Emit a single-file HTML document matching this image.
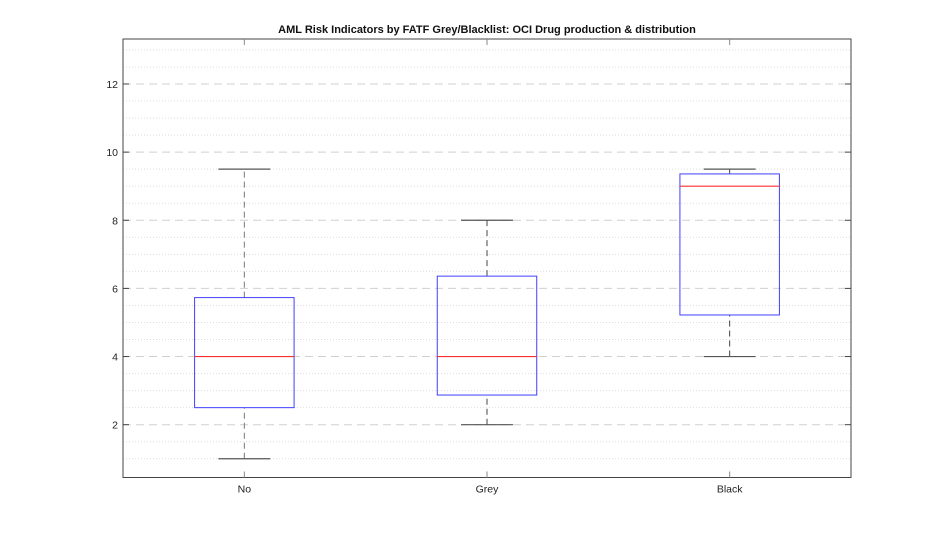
<!DOCTYPE html>
<html><head><meta charset="utf-8"><style>
body{margin:0;background:#fff;font-family:"Liberation Sans",sans-serif}
</style></head><body>
<svg id="chart" width="943" height="539" xmlns="http://www.w3.org/2000/svg" font-family="Liberation Sans, sans-serif"></svg>
<script>
const categories=["No","Grey","Black"];
const whiskerLow=[1,2,4];
const q1=[2.5,2.87,5.22];
const medians=[4,4,9];
const q3=[5.73,6.36,9.36];
const whiskerHigh=[9.5,8,9.5];
const yTicks=[2,4,6,8,10,12];
const title="AML Risk Indicators by FATF Grey/Blacklist: OCI Drug production & distribution";

const L=123,R=851,T=39,B=477.5,yMin=0.45,yMax=13.32;
const sx=v=>L+(v-0.5)/3*(R-L);
const sy=v=>B-(v-yMin)/(yMax-yMin)*(B-T);
const svg=document.getElementById('chart');
const NS="http://www.w3.org/2000/svg";
function mk(tag,attrs,parent){const e=document.createElementNS(NS,tag);for(const k in attrs)e.setAttribute(k,attrs[k]);(parent||svg).appendChild(e);return e;}

const grid=mk('g',{});


for(let v=1;v<=13;v+=0.5){
  const major=yTicks.includes(v);
  const ln=mk('line',{x1:L,x2:R,y1:sy(v),y2:sy(v),stroke:major?'#d0d0d0':'#dedede','stroke-width':1,'stroke-dasharray':major?'8,5':'1,2'},grid);
  
  
}
const box=mk('rect',{x:L,y:T,width:R-L,height:B-T,fill:'none',stroke:'#444','stroke-width':1});


yTicks.forEach(v=>{
  const y=sy(v);
  mk('line',{x1:L,x2:L+6,y1:y,y2:y,stroke:'#444'});
  mk('line',{x1:R-6,x2:R,y1:y,y2:y,stroke:'#444'});
  const t=mk('text',{x:L-5,y:y+4,'text-anchor':'end','font-size':10.5,fill:'#222'});
  t.textContent=v;
  
  
});
categories.forEach((c,i)=>{
  const cx=sx(i+1);
  mk('line',{x1:cx,x2:cx,y1:B,y2:B-6,stroke:'#888'});
  mk('line',{x1:cx,x2:cx,y1:T,y2:T+6,stroke:'#888'});
  const t=mk('text',{x:cx,y:B+15,'text-anchor':'middle','font-size':10.5,fill:'#222'});
  t.textContent=c;
  
  
  const g=mk('g',{});
  
  
  const hw=(sx(1.205)-sx(1)), cw=(sx(1.107)-sx(1));
  const wc=i===0?'#777':'#444';
  mk('line',{x1:cx,x2:cx,y1:sy(whiskerLow[i]),y2:sy(q1[i]),stroke:wc,'stroke-dasharray':'6,4'},g);
  mk('line',{x1:cx,x2:cx,y1:sy(q3[i]),y2:sy(whiskerHigh[i]),stroke:wc,'stroke-dasharray':'6,4'},g);
  mk('line',{x1:cx-cw,x2:cx+cw,y1:sy(whiskerLow[i]),y2:sy(whiskerLow[i]),stroke:'#555','stroke-width':1.2},g);
  mk('line',{x1:cx-cw,x2:cx+cw,y1:sy(whiskerHigh[i]),y2:sy(whiskerHigh[i]),stroke:'#555','stroke-width':1.2},g);
  mk('rect',{x:cx-hw,y:sy(q3[i]),width:2*hw,height:sy(q1[i])-sy(q3[i]),fill:'none',stroke:'#4040ff','stroke-width':1},g);
  mk('line',{x1:cx-hw,x2:cx+hw,y1:sy(medians[i]),y2:sy(medians[i]),stroke:'#ff3030','stroke-width':1.2},g);
});
const tt=mk('text',{x:(L+R)/2,y:33,'text-anchor':'middle','font-size':11,'font-weight':'bold',fill:'#111'});
tt.textContent=title;


</script>
</body></html>
